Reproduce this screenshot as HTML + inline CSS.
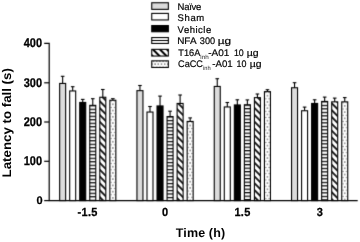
<!DOCTYPE html>
<html><head><meta charset="utf-8"><style>
html,body{margin:0;padding:0;background:#fff;width:360px;height:242px;overflow:hidden}
svg{display:block}
text{font-family:"Liberation Sans",sans-serif;text-rendering:geometricPrecision}
.b{stroke:#000;stroke-width:1.1}
.e{stroke:#000;stroke-width:1.1;fill:none}
.ax{stroke:#000;stroke-width:1.2;fill:none}
.tl{font-size:11px;font-weight:bold;text-anchor:end;stroke:#000;stroke-width:0.25px}
.xl{font-size:11px;font-weight:bold;text-anchor:middle;letter-spacing:0.3px;stroke:#000;stroke-width:0.25px}
.ti{font-size:12.5px;font-weight:bold;text-anchor:middle}
.lt{font-size:9.5px;fill:#000;stroke:#000;stroke-width:0.2px}
.sub{font-size:6px;stroke-width:0;fill:#222}
</style></head><body>
<svg width="360" height="242" viewBox="0 0 360 242">
<defs>
<filter id="bl" x="0" y="0" width="1" height="1" color-interpolation-filters="sRGB"><feConvolveMatrix order="3" kernelMatrix="0.0113 0.0838 0.0113 0.0838 0.6193 0.0838 0.0113 0.0838 0.0113" edgeMode="duplicate" preserveAlpha="true"/></filter>
<pattern id="hs0" patternUnits="userSpaceOnUse" x="0" y="105.2" width="10" height="3.5"><rect width="10" height="3.5" fill="#fff"/><rect width="10" height="1.2" fill="#000"/></pattern>
<pattern id="dg0" patternUnits="userSpaceOnUse" width="4.84" height="4.84" patternTransform="translate(-76.8,0) rotate(-45)"><rect width="4.84" height="4.84" fill="#fff"/><rect x="-0.85" width="1.7" height="4.84" fill="#000"/><rect x="3.99" width="1.7" height="4.84" fill="#000"/></pattern>
<pattern id="dt0" patternUnits="userSpaceOnUse" x="112.85" y="104.3" width="3.4" height="6.24"><rect width="3.4" height="6.24" fill="#fff"/><circle cx="0" cy="0" r="0.6" fill="#000"/><circle cx="3.4" cy="0" r="0.6" fill="#000"/><circle cx="0" cy="6.24" r="0.6" fill="#000"/><circle cx="3.4" cy="6.24" r="0.6" fill="#000"/><circle cx="1.7" cy="3.12" r="0.6" fill="#666"/></pattern>
<pattern id="hs1" patternUnits="userSpaceOnUse" x="0" y="116.4" width="10" height="3.5"><rect width="10" height="3.5" fill="#fff"/><rect width="10" height="1.2" fill="#000"/></pattern>
<pattern id="dg1" patternUnits="userSpaceOnUse" width="4.84" height="4.84" patternTransform="translate(-0.45,0) rotate(-45)"><rect width="4.84" height="4.84" fill="#fff"/><rect x="-0.85" width="1.7" height="4.84" fill="#000"/><rect x="3.99" width="1.7" height="4.84" fill="#000"/></pattern>
<pattern id="dt1" patternUnits="userSpaceOnUse" x="190.15" y="125.5" width="3.4" height="6.24"><rect width="3.4" height="6.24" fill="#fff"/><circle cx="0" cy="0" r="0.6" fill="#000"/><circle cx="3.4" cy="0" r="0.6" fill="#000"/><circle cx="0" cy="6.24" r="0.6" fill="#000"/><circle cx="3.4" cy="6.24" r="0.6" fill="#000"/><circle cx="1.7" cy="3.12" r="0.6" fill="#666"/></pattern>
<pattern id="hs2" patternUnits="userSpaceOnUse" x="0" y="104.6" width="10" height="3.5"><rect width="10" height="3.5" fill="#fff"/><rect width="10" height="1.2" fill="#000"/></pattern>
<pattern id="dg2" patternUnits="userSpaceOnUse" width="4.84" height="4.84" patternTransform="translate(78.05,0) rotate(-45)"><rect width="4.84" height="4.84" fill="#fff"/><rect x="-0.85" width="1.7" height="4.84" fill="#000"/><rect x="3.99" width="1.7" height="4.84" fill="#000"/></pattern>
<pattern id="dt2" patternUnits="userSpaceOnUse" x="267.45" y="95.7" width="3.4" height="6.24"><rect width="3.4" height="6.24" fill="#fff"/><circle cx="0" cy="0" r="0.6" fill="#000"/><circle cx="3.4" cy="0" r="0.6" fill="#000"/><circle cx="0" cy="6.24" r="0.6" fill="#000"/><circle cx="3.4" cy="6.24" r="0.6" fill="#000"/><circle cx="1.7" cy="3.12" r="0.6" fill="#666"/></pattern>
<pattern id="hs3" patternUnits="userSpaceOnUse" x="0" y="101.3" width="10" height="3.5"><rect width="10" height="3.5" fill="#fff"/><rect width="10" height="1.2" fill="#000"/></pattern>
<pattern id="dg3" patternUnits="userSpaceOnUse" width="4.84" height="4.84" patternTransform="translate(194.2,0) rotate(-45)"><rect width="4.84" height="4.84" fill="#fff"/><rect x="-0.85" width="1.7" height="4.84" fill="#000"/><rect x="3.99" width="1.7" height="4.84" fill="#000"/></pattern>
<pattern id="dt3" patternUnits="userSpaceOnUse" x="344.75" y="105.9" width="3.4" height="6.24"><rect width="3.4" height="6.24" fill="#fff"/><circle cx="0" cy="0" r="0.6" fill="#000"/><circle cx="3.4" cy="0" r="0.6" fill="#000"/><circle cx="0" cy="6.24" r="0.6" fill="#000"/><circle cx="3.4" cy="6.24" r="0.6" fill="#000"/><circle cx="1.7" cy="3.12" r="0.6" fill="#666"/></pattern>
<pattern id="hsL" patternUnits="userSpaceOnUse" width="30" height="30" x="0" y="37"><rect width="30" height="30" fill="#fff"/><rect y="3" width="30" height="1" fill="#000"/></pattern>
<pattern id="dgL" patternUnits="userSpaceOnUse" width="4.95" height="4.95" patternTransform="translate(103.5,0) rotate(-45)"><rect width="4.95" height="4.95" fill="#fff"/><rect x="-1" width="2" height="4.95" fill="#000"/><rect x="3.95" width="2" height="4.95" fill="#000"/></pattern>
<pattern id="dtL" patternUnits="userSpaceOnUse" x="155.1" y="64.15" width="3.2" height="6.2"><rect width="3.2" height="6.2" fill="#fff"/><circle cx="0" cy="0" r="0.6" fill="#000"/><circle cx="3.2" cy="0" r="0.6" fill="#000"/><circle cx="0" cy="6.2" r="0.6" fill="#000"/><circle cx="3.2" cy="6.2" r="0.6" fill="#000"/><circle cx="1.6" cy="3.1" r="0.6" fill="#000"/></pattern>
</defs>
<g filter="url(#bl)"><rect width="360" height="242" fill="#fff"/>
<g>
<polyline class="ax" points="44.2,43.3 49.2,43.3 49.2,200.6 357.7,200.6"/>
<line class="ax" x1="44.2" y1="82.8" x2="49.2" y2="82.8"/>
<line class="ax" x1="44.2" y1="122" x2="49.2" y2="122"/>
<line class="ax" x1="44.2" y1="161.3" x2="49.2" y2="161.3"/>
<line class="ax" x1="44.2" y1="200.6" x2="49.2" y2="200.6"/>
</g>
<line x1="62.65" y1="83.9" x2="62.65" y2="76.3" class="e"/>
<line x1="60.85" y1="76.3" x2="64.45" y2="76.3" class="e"/>
<rect x="59.65" y="83.45" width="6" height="117.15" fill="#dcdcdc" class="b"/>
<line x1="72.69" y1="91.4" x2="72.69" y2="86.7" class="e"/>
<line x1="70.89" y1="86.7" x2="74.49" y2="86.7" class="e"/>
<rect x="69.69" y="90.95" width="6" height="109.65" fill="#fff" class="b"/>
<line x1="82.73" y1="102.9" x2="82.73" y2="99.4" class="e"/>
<line x1="80.93" y1="99.4" x2="84.53" y2="99.4" class="e"/>
<rect x="79.73" y="102.45" width="6" height="98.15" fill="#000" class="b"/>
<line x1="92.77" y1="105.8" x2="92.77" y2="98.7" class="e"/>
<line x1="90.97" y1="98.7" x2="94.57" y2="98.7" class="e"/>
<rect x="89.77" y="105.35" width="6" height="95.25" fill="url(#hs0)" class="b"/>
<line x1="102.81" y1="97.7" x2="102.81" y2="89.5" class="e"/>
<line x1="101.01" y1="89.5" x2="104.61" y2="89.5" class="e"/>
<rect x="99.81" y="97.25" width="6" height="103.35" fill="url(#dg0)" class="b"/>
<line x1="112.85" y1="100.7" x2="112.85" y2="98.7" class="e"/>
<line x1="111.05" y1="98.7" x2="114.65" y2="98.7" class="e"/>
<rect x="109.85" y="100.25" width="6" height="100.35" fill="url(#dt0)" class="b"/>
<line x1="139.95" y1="91.1" x2="139.95" y2="85.5" class="e"/>
<line x1="138.15" y1="85.5" x2="141.75" y2="85.5" class="e"/>
<rect x="136.95" y="90.65" width="6" height="109.95" fill="#dcdcdc" class="b"/>
<line x1="149.99" y1="112.5" x2="149.99" y2="106.5" class="e"/>
<line x1="148.19" y1="106.5" x2="151.79" y2="106.5" class="e"/>
<rect x="146.99" y="112.05" width="6" height="88.55" fill="#fff" class="b"/>
<line x1="160.03" y1="106.4" x2="160.03" y2="96.1" class="e"/>
<line x1="158.23" y1="96.1" x2="161.83" y2="96.1" class="e"/>
<rect x="157.03" y="105.95" width="6" height="94.65" fill="#000" class="b"/>
<line x1="170.07" y1="117" x2="170.07" y2="111.2" class="e"/>
<line x1="168.27" y1="111.2" x2="171.87" y2="111.2" class="e"/>
<rect x="167.07" y="116.55" width="6" height="84.05" fill="url(#hs1)" class="b"/>
<line x1="180.11" y1="103.9" x2="180.11" y2="95" class="e"/>
<line x1="178.31" y1="95" x2="181.91" y2="95" class="e"/>
<rect x="177.11" y="103.45" width="6" height="97.15" fill="url(#dg1)" class="b"/>
<line x1="190.15" y1="121.9" x2="190.15" y2="117.9" class="e"/>
<line x1="188.35" y1="117.9" x2="191.95" y2="117.9" class="e"/>
<rect x="187.15" y="121.45" width="6" height="79.15" fill="url(#dt1)" class="b"/>
<line x1="217.25" y1="86.9" x2="217.25" y2="78.7" class="e"/>
<line x1="215.45" y1="78.7" x2="219.05" y2="78.7" class="e"/>
<rect x="214.25" y="86.45" width="6" height="114.15" fill="#dcdcdc" class="b"/>
<line x1="227.29" y1="107.4" x2="227.29" y2="102.5" class="e"/>
<line x1="225.49" y1="102.5" x2="229.09" y2="102.5" class="e"/>
<rect x="224.29" y="106.95" width="6" height="93.65" fill="#fff" class="b"/>
<line x1="237.33" y1="105.4" x2="237.33" y2="99.8" class="e"/>
<line x1="235.53" y1="99.8" x2="239.13" y2="99.8" class="e"/>
<rect x="234.33" y="104.95" width="6" height="95.65" fill="#000" class="b"/>
<line x1="247.37" y1="105.2" x2="247.37" y2="99.9" class="e"/>
<line x1="245.57" y1="99.9" x2="249.17" y2="99.9" class="e"/>
<rect x="244.37" y="104.75" width="6" height="95.85" fill="url(#hs2)" class="b"/>
<line x1="257.41" y1="98.1" x2="257.41" y2="94" class="e"/>
<line x1="255.61" y1="94" x2="259.21" y2="94" class="e"/>
<rect x="254.41" y="97.65" width="6" height="102.95" fill="url(#dg2)" class="b"/>
<line x1="267.45" y1="92.1" x2="267.45" y2="89.7" class="e"/>
<line x1="265.65" y1="89.7" x2="269.25" y2="89.7" class="e"/>
<rect x="264.45" y="91.65" width="6" height="108.95" fill="url(#dt2)" class="b"/>
<line x1="294.55" y1="88.2" x2="294.55" y2="82.7" class="e"/>
<line x1="292.75" y1="82.7" x2="296.35" y2="82.7" class="e"/>
<rect x="291.55" y="87.75" width="6" height="112.85" fill="#dcdcdc" class="b"/>
<line x1="304.59" y1="111.2" x2="304.59" y2="107.1" class="e"/>
<line x1="302.79" y1="107.1" x2="306.39" y2="107.1" class="e"/>
<rect x="301.59" y="110.75" width="6" height="89.85" fill="#fff" class="b"/>
<line x1="314.63" y1="103.9" x2="314.63" y2="99.8" class="e"/>
<line x1="312.83" y1="99.8" x2="316.43" y2="99.8" class="e"/>
<rect x="311.63" y="103.45" width="6" height="97.15" fill="#000" class="b"/>
<line x1="324.67" y1="101.9" x2="324.67" y2="97.1" class="e"/>
<line x1="322.87" y1="97.1" x2="326.47" y2="97.1" class="e"/>
<rect x="321.67" y="101.45" width="6" height="99.15" fill="url(#hs3)" class="b"/>
<line x1="334.71" y1="102.3" x2="334.71" y2="98.1" class="e"/>
<line x1="332.91" y1="98.1" x2="336.51" y2="98.1" class="e"/>
<rect x="331.71" y="101.85" width="6" height="98.75" fill="url(#dg3)" class="b"/>
<line x1="344.75" y1="102.3" x2="344.75" y2="97.6" class="e"/>
<line x1="342.95" y1="97.6" x2="346.55" y2="97.6" class="e"/>
<rect x="341.75" y="101.85" width="6" height="98.75" fill="url(#dt3)" class="b"/>
<rect x="151.75" y="2.75" width="16.6" height="6.6" fill="#dcdcdc" class="b"/>
<rect x="151.75" y="13.4" width="16.6" height="6.55" fill="#fff" class="b"/>
<rect x="151.75" y="25.55" width="16.6" height="6.2" fill="#000" class="b"/>
<rect x="151.75" y="37.55" width="16.6" height="5.9" fill="url(#hsL)" class="b"/>
<rect x="151.75" y="49.35" width="16.6" height="6.7" fill="url(#dgL)" class="b"/>
<rect x="151.75" y="60.85" width="16.6" height="6.6" fill="url(#dtL)" class="b"/>
</g>
<g opacity="0.995">
<text class="tl" transform="translate(42,43.2) scale(1,1.15)" y="3.6">400</text>
<text class="tl" transform="translate(42,82.8) scale(1,1.15)" y="3.6">300</text>
<text class="tl" transform="translate(42,122) scale(1,1.15)" y="3.6">200</text>
<text class="tl" transform="translate(42,161.1) scale(1,1.15)" y="3.6">100</text>
<text class="tl" x="42.6" y="203.9">0</text>
<text class="xl" transform="translate(87.7,216.1) scale(1,1.07)">-1.5</text>
<text class="xl" transform="translate(165.1,216.1) scale(1,1.07)">0</text>
<text class="xl" transform="translate(242.5,216.1) scale(1,1.07)">1.5</text>
<text class="xl" transform="translate(319.9,216.1) scale(1,1.07)">3</text>
<text class="ti" x="200.5" y="237" style="letter-spacing:0.14px">Time (h)</text>
<text class="ti" transform="translate(10.8,122.8) rotate(-90) scale(1.063,1)" x="0" y="0">Latency to fall (s)</text>
<text x="177.6" y="9.9" class="lt" textLength="23.75" lengthAdjust="spacing">Na&#239;ve</text>
<text x="177.6" y="20.9" class="lt" textLength="26.6" lengthAdjust="spacing">Sham</text>
<text x="177.6" y="32.6" class="lt" textLength="33.6" lengthAdjust="spacing">Vehicle</text>
<text class="lt" x="177.21" y="43.9" textLength="19.31" lengthAdjust="spacingAndGlyphs">NFA</text>
<text class="lt" x="199.85" y="43.9" textLength="15.31" lengthAdjust="spacingAndGlyphs">300</text>
<text class="lt" x="217.79" y="43.9" textLength="13.37" lengthAdjust="spacingAndGlyphs">&#181;g</text>
<text class="lt" x="178.29" y="55.9" textLength="22.02" lengthAdjust="spacingAndGlyphs">T16A</text>
<text class="lt sub" x="200.38" y="58.5" textLength="8.32" lengthAdjust="spacingAndGlyphs">inh</text>
<text class="lt" x="208.16" y="55.9" textLength="21.13" lengthAdjust="spacingAndGlyphs">-A01</text>
<text class="lt" x="233.93" y="55.9" textLength="9.82" lengthAdjust="spacingAndGlyphs">10</text>
<text class="lt" x="246.78" y="55.9" textLength="11.9" lengthAdjust="spacingAndGlyphs">&#181;g</text>
<text class="lt" x="178.04" y="67.4" textLength="24.91" lengthAdjust="spacingAndGlyphs">CaCC</text>
<text class="lt sub" x="203.02" y="70" textLength="7.66" lengthAdjust="spacingAndGlyphs">inh</text>
<text class="lt" x="212.27" y="67.4" textLength="20.51" lengthAdjust="spacingAndGlyphs">-A01</text>
<text class="lt" x="236.62" y="67.4" textLength="9.93" lengthAdjust="spacingAndGlyphs">10</text>
<text class="lt" x="249.69" y="67.4" textLength="11.78" lengthAdjust="spacingAndGlyphs">&#181;g</text>
</g>
</svg>
</body></html>
